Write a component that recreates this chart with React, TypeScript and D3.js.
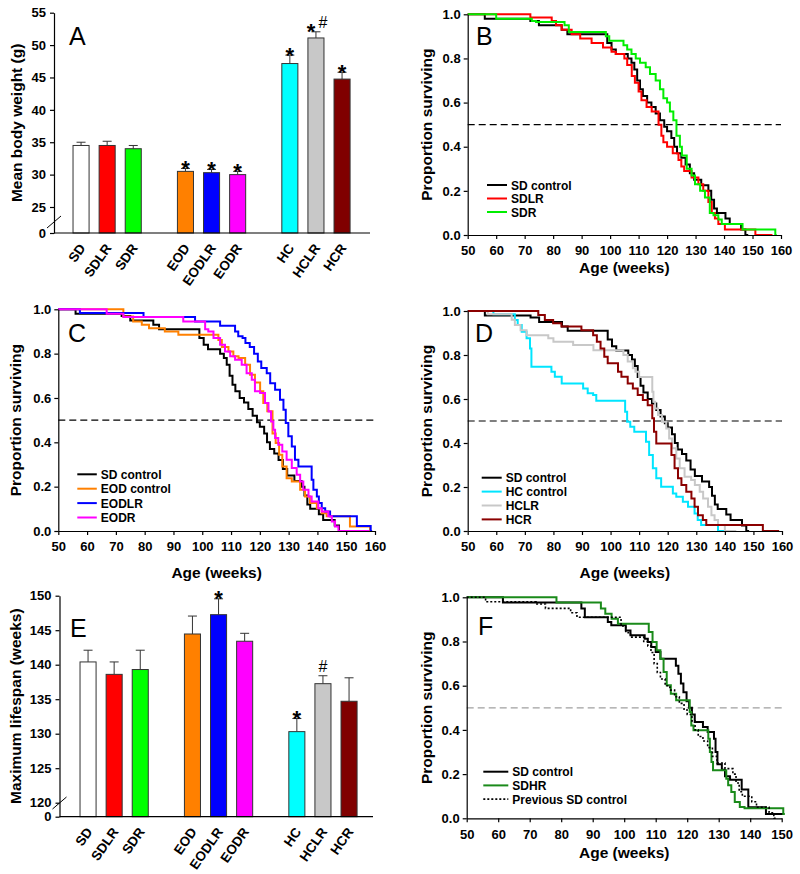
import { useEffect, useRef } from "react";
import * as d3 from "d3";

const FONT = "'Liberation Sans', Arial, Helvetica, sans-serif";

// ---- bar panels (A, E) ----
const barGroups = [
  ["SD", "SDLR", "SDR"],
  ["EOD", "EODLR", "EODR"],
  ["HC", "HCLR", "HCR"],
];
const barColors: Record<string, string> = {
  SD: "#ffffff", SDLR: "#ff0000", SDR: "#00ff00",
  EOD: "#ff8000", EODLR: "#0000ff", EODR: "#ff00ff",
  HC: "#00ffff", HCLR: "#c8c8c8", HCR: "#800000",
};
const bodyWeight = [34.5, 34.5, 34.0, 30.5, 30.3, 30.0, 47.15, 51.1, 44.75];
const bodyWeightErr = [0.5, 0.65, 0.5, 0.45, 0.5, 0.5, 1.3, 0.95, 1.05];
const bodyWeightMarks = ["", "", "", "*", "*", "*", "*", "*", "*"];
const bodyWeightHash = ["", "", "", "", "", "", "", "#", ""];
const bodyWeightTicks = [0, 25, 30, 35, 40, 45, 50, 55];

const maxLifespan = [140.4, 138.6, 139.3, 144.45, 147.25, 143.4, 130.3, 137.25, 134.7];
const maxLifespanErr = [1.7, 1.8, 2.8, 2.6, 2.3, 1.15, 1.9, 1.15, 3.4];
const lifespanMarks = ["", "", "", "", "*", "", "*", "", ""];
const lifespanHash = ["", "", "", "", "", "", "", "#", ""];
const lifespanTicks = [0, 120, 125, 130, 135, 140, 145, 150];

// ---- survival curves: [week, proportion from that week on] ----
type Pt = [number, number];
const sdControl: Pt[] = [
  [50, 1], [56, 0.98], [72, 0.97], [75, 0.95], [83, 0.93], [85, 0.91], [99, 0.87], [100.5, 0.84],
  [102, 0.82], [106.2, 0.8], [107.5, 0.78], [108.5, 0.75], [109.5, 0.7], [110.5, 0.66], [111.5, 0.63],
  [113, 0.6], [114.5, 0.58], [116, 0.55], [117.5, 0.52], [119, 0.49], [120, 0.47], [121.5, 0.44],
  [122.5, 0.4], [123.5, 0.37], [125, 0.35], [126.5, 0.32], [128, 0.28], [129.5, 0.25], [132, 0.225],
  [134.5, 0.2], [135.5, 0.16], [136.5, 0.12], [137.5, 0.1], [140.5, 0.075], [142, 0.05], [146, 0.025],
  [147.5, 0], [148.5, 0],
];
const sdlr: Pt[] = [
  [50, 1], [72, 0.985], [79.5, 0.97], [81, 0.95], [83, 0.93], [86.5, 0.91], [89.5, 0.89], [93.5, 0.87],
  [97.5, 0.85], [100.5, 0.83], [102, 0.82], [105, 0.8], [106, 0.77], [107.6, 0.72], [108.7, 0.69],
  [110, 0.65], [111, 0.61], [112.8, 0.58], [114.6, 0.56], [117, 0.5], [118, 0.45], [118.7, 0.42],
  [120, 0.4], [122, 0.37], [124, 0.34], [125, 0.31], [126, 0.29], [128.6, 0.26], [131, 0.23],
  [132.7, 0.2], [134.5, 0.15], [135.7, 0.1], [136.8, 0.075], [138, 0.05], [140.3, 0.025], [151, 0],
  [157, 0],
];
const sdr: Pt[] = [
  [50, 1], [60, 0.98], [72.5, 0.97], [74, 0.965], [84, 0.95], [85.5, 0.92], [98.5, 0.9], [99.7, 0.88],
  [104.7, 0.86], [106, 0.84], [107.5, 0.82], [109, 0.8], [110.5, 0.78], [112.5, 0.76], [114, 0.73],
  [116, 0.7], [117.5, 0.66], [118.7, 0.62], [120, 0.6], [121, 0.56], [122.2, 0.52], [123.3, 0.45],
  [124.5, 0.4], [125.2, 0.36], [126.9, 0.3], [128.6, 0.27], [129.8, 0.23], [131.6, 0.2], [133.3, 0.17],
  [135, 0.1], [136.3, 0.09], [138, 0.07], [139.2, 0.05], [146.5, 0.025], [158, 0], [158.5, 0],
];
const eodControl: Pt[] = [
  [50, 1], [72.6, 0.968], [76, 0.945], [79, 0.93], [81.5, 0.915], [87, 0.9], [91.7, 0.885],
  [105.6, 0.862], [106.8, 0.83], [109.1, 0.81], [110.8, 0.788], [112.6, 0.78], [114.9, 0.75],
  [116.6, 0.705], [118.3, 0.67], [120.1, 0.63], [121.2, 0.577], [122.6, 0.54], [124.4, 0.44],
  [125.5, 0.397], [126.7, 0.344], [127.8, 0.291], [129.3, 0.238], [131.1, 0.223], [134, 0.186],
  [135.7, 0.156], [137.4, 0.126], [139.8, 0.103], [141.5, 0.08], [143.2, 0.066], [151.3, 0.02],
  [158.3, 0], [159, 0],
];
const eodlr: Pt[] = [
  [50, 1], [57.5, 0.983], [79.6, 0.965], [97.5, 0.945], [106.2, 0.926], [111.4, 0.9], [112.5, 0.878],
  [114, 0.87], [115, 0.848], [116.5, 0.83], [118, 0.8], [119.3, 0.765], [120.5, 0.735], [122.4, 0.712],
  [123.6, 0.667], [125.3, 0.637], [127, 0.592], [128.2, 0.547], [129, 0.487], [129.9, 0.427],
  [131.1, 0.381], [132.2, 0.321], [133.4, 0.291], [138, 0.231], [138.6, 0.186], [139.8, 0.156],
  [140.5, 0.126], [141.5, 0.103], [142.7, 0.088], [144.4, 0.066], [153.7, 0.023], [158.5, 0], [159, 0],
];
const eodr: Pt[] = [
  [50, 1], [66.8, 0.98], [72.6, 0.965], [93.4, 0.945], [101, 0.91], [102.1, 0.9], [103.9, 0.87],
  [106.2, 0.84], [107.9, 0.81], [109.7, 0.788], [111.4, 0.772], [113.7, 0.75], [115.4, 0.712],
  [117.2, 0.682], [118.3, 0.63], [120.1, 0.622], [121.8, 0.577], [123, 0.539], [123.9, 0.494],
  [124.7, 0.457], [125.3, 0.419], [126.4, 0.389], [127.8, 0.359], [129.3, 0.321], [131.1, 0.284],
  [132.8, 0.254], [134, 0.223], [135.1, 0.186], [136.9, 0.156], [138, 0.133], [140.3, 0.103],
  [141.5, 0.088], [143.8, 0.066], [145, 0.043], [146.1, 0.02], [147.3, 0], [158, 0],
];
const hcControl: Pt[] = [
  [50, 1], [59, 0.985], [66.5, 0.959], [67.5, 0.936], [68.9, 0.906], [70.6, 0.876], [71.8, 0.83],
  [72.3, 0.747], [79.3, 0.724], [80.5, 0.701], [82.9, 0.671], [90.4, 0.648], [92, 0.626], [93.9, 0.618],
  [95, 0.592], [105.1, 0.542], [105.8, 0.497], [106.9, 0.474], [108.3, 0.451], [112.4, 0.406],
  [113.5, 0.345], [114.8, 0.285], [116, 0.24], [117.7, 0.201], [121.8, 0.171], [123, 0.156],
  [125.3, 0.133], [127.1, 0.11], [129.4, 0.08], [130.5, 0.05], [131.7, 0.027], [137.6, 0], [143, 0],
];
const hclr: Pt[] = [
  [50, 1], [57, 0.985], [65.4, 0.96], [66.5, 0.936], [68.5, 0.913], [70.6, 0.89], [78.2, 0.876],
  [80, 0.86], [86.9, 0.845], [94, 0.822], [104.5, 0.8], [106, 0.77], [107.8, 0.74], [108.7, 0.724],
  [110, 0.7], [114.6, 0.633], [115, 0.588], [115.6, 0.557], [116.6, 0.527], [118, 0.497],
  [119.5, 0.466], [120.5, 0.421], [121.5, 0.376], [123, 0.33], [124.2, 0.285], [125.9, 0.247],
  [128.2, 0.232], [129.5, 0.209], [131.2, 0.178], [132.4, 0.148], [134.1, 0.11], [135.3, 0.072],
  [136.4, 0.05], [137.6, 0.027], [140, 0], [144, 0],
];
const hcr: Pt[] = [
  [50, 1], [74.7, 0.982], [77, 0.959], [79.9, 0.944], [82.8, 0.929], [89.8, 0.913], [93.9, 0.89],
  [95.2, 0.86], [96.5, 0.83], [97.8, 0.792], [99, 0.762], [102.6, 0.724], [103.8, 0.701], [106, 0.671],
  [107.8, 0.648], [109.5, 0.618], [111.3, 0.595], [113, 0.572], [114.6, 0.512], [115.2, 0.451],
  [116, 0.398], [121.3, 0.345], [122.4, 0.285], [123.6, 0.24], [124.8, 0.209], [126.5, 0.178],
  [128.3, 0.148], [129.4, 0.11], [130.6, 0.072], [132.3, 0.05], [133.5, 0.027], [153.3, 0], [159, 0],
];
const sdControlF: Pt[] = [
  [50, 1], [61.5, 0.976], [86.4, 0.949], [87.5, 0.91], [94.8, 0.888], [95.9, 0.873], [100.5, 0.85],
  [102, 0.828], [106.5, 0.813], [107.5, 0.798], [108.6, 0.775], [110, 0.753], [111.5, 0.722],
  [116.4, 0.69], [117.2, 0.654], [118, 0.61], [118.8, 0.57], [119.8, 0.53], [120.6, 0.5], [121.5, 0.47],
  [122.4, 0.436], [125, 0.413], [126.5, 0.391], [128.5, 0.36], [129, 0.3], [129.6, 0.245], [131, 0.22],
  [132, 0.19], [133.6, 0.175], [137.3, 0.13], [139.4, 0.05], [145, 0.02], [150.5, 0.02],
];
const sdhr: Pt[] = [
  [50, 1], [78.5, 0.976], [92.6, 0.949], [94, 0.926], [96, 0.903], [98, 0.88], [107.8, 0.843],
  [109, 0.798], [110.3, 0.76], [111.5, 0.722], [112.5, 0.662], [113.5, 0.602], [114.8, 0.564],
  [116.5, 0.534], [120.8, 0.481], [121.3, 0.42], [122, 0.398], [126.7, 0.36], [127.2, 0.3],
  [127.7, 0.255], [128.2, 0.217], [132.4, 0.179], [133, 0.149], [134, 0.119], [135.1, 0.074],
  [136.7, 0.051], [138.2, 0.045], [150.5, 0.02], [151, 0.02],
];

type Series = { label: string; data: Pt[]; color: string; dash?: string };

const panelB: Series[] = [
  { label: "SD control", data: sdControl, color: "#000000" },
  { label: "SDLR", data: sdlr, color: "#ff0000" },
  { label: "SDR", data: sdr, color: "#00ee00" },
];
const panelC: Series[] = [
  { label: "SD control", data: sdControl, color: "#000000" },
  { label: "EOD control", data: eodControl, color: "#ff8000" },
  { label: "EODLR", data: eodlr, color: "#0000ff" },
  { label: "EODR", data: eodr, color: "#ff00ff" },
];
const panelD: Series[] = [
  { label: "SD control", data: sdControl, color: "#000000" },
  { label: "HC control", data: hcControl, color: "#00e5ff" },
  { label: "HCLR", data: hclr, color: "#c8c8c8" },
  { label: "HCR", data: hcr, color: "#8b0000" },
];
const panelF: Series[] = [
  { label: "SD control", data: sdControlF, color: "#000000" },
  { label: "SDHR", data: sdhr, color: "#1a8a1a" },
  { label: "Previous SD control", data: sdControl, color: "#000000", dash: "2,2" },
];

type Sel = d3.Selection<SVGSVGElement, unknown, null, undefined>;

function styleAxis(g: d3.Selection<SVGGElement, unknown, null, undefined>) {
  g.attr("font-family", FONT).attr("font-size", 13).attr("font-weight", "bold");
  g.selectAll(".domain").attr("stroke", "#000").attr("stroke-width", 1.2);
  g.selectAll(".tick line").attr("stroke", "#000").attr("stroke-width", 1.2);
  g.selectAll(".tick text").attr("fill", "#000");
}

function letter(svg: Sel, t: string, x: number, y: number) {
  svg.append("text").attr("x", x).attr("y", y).attr("font-family", FONT)
    .attr("font-size", 25).text(t);
}

function yTitle(svg: Sel, t: string, x: number, y: number) {
  svg.append("text").attr("transform", `translate(${x},${y}) rotate(-90)`)
    .attr("text-anchor", "middle").attr("font-family", FONT).attr("font-size", 15.5)
    .attr("font-weight", "bold").text(t);
}

function drawBars(svg: Sel, cfg: {
  values: number[]; errs: number[]; marks: string[]; hashes: string[]; ticks: number[];
  breakAt: number; top: number; base: number; breakY: number; topY: number;
  axisX: number; axisRight: number; barStart: number; slashY: number;
  title: string; titleX: number; letterText: string; letterX: number; letterY: number;
}) {
  const names = barGroups.flat();
  const y = d3.scaleLinear().domain([0, cfg.breakAt, cfg.top]).range([cfg.base, cfg.breakY, cfg.topY]);
  const outer = d3.scaleBand<number>().domain([0, 1, 2])
    .range([cfg.barStart, cfg.barStart + 26.1 * 11]).paddingInner(0.25).paddingOuter(0);
  const cx = (i: number) => {
    const gi = Math.floor(i / 3);
    const inner = d3.scaleBand<string>().domain(barGroups[gi])
      .range([outer(gi)!, outer(gi)! + outer.bandwidth()]).paddingInner(0.385).paddingOuter(0.1925);
    return { x: inner(names[i])!, w: inner.bandwidth() };
  };

  const g = svg.append("g");
  names.forEach((n, i) => {
    const { x, w } = cx(i);
    const c = x + w / 2;
    const v = cfg.values[i];
    const e = v + cfg.errs[i];
    g.append("line").attr("x1", c).attr("x2", c).attr("y1", y(v)).attr("y2", y(e))
      .attr("stroke", "#333").attr("stroke-width", 1);
    g.append("line").attr("x1", c - 4.5).attr("x2", c + 4.5).attr("y1", y(e)).attr("y2", y(e))
      .attr("stroke", "#333").attr("stroke-width", 1);
    g.append("rect").attr("x", x).attr("y", y(v)).attr("width", w).attr("height", cfg.base - y(v))
      .attr("fill", barColors[n]).attr("stroke", "#333").attr("stroke-width", 1);
    const hasHash = cfg.hashes[i] !== "";
    if (cfg.marks[i]) {
      g.append("text").attr("x", hasHash ? c - 5 : c).attr("y", y(e) + 7.5)
        .attr("text-anchor", "middle").attr("font-family", FONT).attr("font-size", 22)
        .attr("font-weight", "bold").text(cfg.marks[i]);
    }
    if (hasHash) {
      g.append("text").attr("x", cfg.marks[i] ? c + 7 : c).attr("y", y(e) - 3.5)
        .attr("text-anchor", "middle").attr("font-family", FONT).attr("font-size", 16)
        .attr("font-weight", "normal").text(cfg.hashes[i]);
    }
    g.append("text").attr("transform", `translate(${c + 5},${cfg.base + 15}) rotate(-55)`)
      .attr("text-anchor", "end").attr("font-family", FONT).attr("font-size", 13.5)
      .attr("font-weight", "bold").text(n);
  });

  const ax = svg.append("g").attr("transform", `translate(${cfg.axisX},0)`)
    .call(d3.axisLeft(y).tickValues(cfg.ticks).tickSize(4).tickSizeOuter(0).tickPadding(4).tickFormat(d3.format("d")));
  styleAxis(ax);
  svg.append("line").attr("x1", cfg.axisX).attr("x2", cfg.axisRight).attr("y1", cfg.base).attr("y2", cfg.base)
    .attr("stroke", "#000").attr("stroke-width", 1.2);
  svg.append("line").attr("x1", cfg.axisX - 7).attr("x2", cfg.axisX + 7)
    .attr("y1", cfg.slashY + 6).attr("y2", cfg.slashY - 6).attr("stroke", "#000").attr("stroke-width", 1);

  yTitle(svg, cfg.title, cfg.titleX, (cfg.topY + cfg.base) / 2);
  letter(svg, cfg.letterText, cfg.letterX, cfg.letterY);
}

function drawSurvival(svg: Sel, cfg: {
  series: Series[]; x0: number; x1: number; yTop: number; yBot: number; xMax: number;
  refColor: string; refDash: string; legendX: number; legendY: number; legendStep: number;
  legendLen: number; letterText: string; letterX: number; letterY: number;
  titleX: number; xTitleY: number;
}) {
  const x = d3.scaleLinear().domain([50, cfg.xMax]).range([cfg.x0, cfg.x1]);
  const y = d3.scaleLinear().domain([0, 1]).range([cfg.yBot, cfg.yTop]);

  svg.append("line").attr("x1", cfg.x0).attr("x2", cfg.x1).attr("y1", y(0.5)).attr("y2", y(0.5))
    .attr("stroke", cfg.refColor).attr("stroke-width", 1.2).attr("stroke-dasharray", cfg.refDash);

  const line = d3.line<Pt>().x(d => x(d[0])).y(d => y(d[1])).curve(d3.curveStepAfter);
  cfg.series.forEach(s => {
    svg.append("path").attr("d", line(s.data)).attr("fill", "none").attr("stroke", s.color)
      .attr("stroke-width", s.dash ? 1.6 : 2).attr("stroke-dasharray", s.dash ?? null);
  });

  const ticks = d3.range(50, cfg.xMax + 1, 10);
  const xa = svg.append("g").attr("transform", `translate(0,${cfg.yBot})`)
    .call(d3.axisBottom(x).tickValues(ticks).tickSize(4).tickSizeOuter(0).tickPadding(7).tickFormat(d3.format("d")));
  styleAxis(xa);
  const ya = svg.append("g").attr("transform", `translate(${cfg.x0},0)`)
    .call(d3.axisLeft(y).tickValues([0, 0.2, 0.4, 0.6, 0.8, 1]).tickSize(4).tickSizeOuter(0).tickPadding(3).tickFormat(d3.format(".1f")));
  styleAxis(ya);

  cfg.series.forEach((s, i) => {
    const ly = cfg.legendY + i * cfg.legendStep;
    svg.append("line").attr("x1", cfg.legendX).attr("x2", cfg.legendX + cfg.legendLen)
      .attr("y1", ly).attr("y2", ly).attr("stroke", s.color)
      .attr("stroke-width", s.dash ? 1.6 : 2).attr("stroke-dasharray", s.dash ?? null);
    svg.append("text").attr("x", cfg.legendX + cfg.legendLen + 4).attr("y", ly + 4.5)
      .attr("font-family", FONT).attr("font-size", 12).attr("font-weight", "bold").text(s.label);
  });

  yTitle(svg, "Proportion surviving", cfg.titleX, (cfg.yTop + cfg.yBot) / 2);
  svg.append("text").attr("x", (cfg.x0 + cfg.x1) / 2).attr("y", cfg.xTitleY).attr("text-anchor", "middle")
    .attr("font-family", FONT).attr("font-size", 15.5).attr("font-weight", "bold").text("Age (weeks)");
  letter(svg, cfg.letterText, cfg.letterX, cfg.letterY);
}

export default function App() {
  const ref = useRef<SVGSVGElement>(null);
  useEffect(() => {
    document.body.style.margin = "0";
    const svg = d3.select(ref.current!) as Sel;
    svg.selectAll("*").remove();

    drawBars(svg, {
      values: bodyWeight, errs: bodyWeightErr, marks: bodyWeightMarks, hashes: bodyWeightHash,
      ticks: bodyWeightTicks, breakAt: 25, top: 55, base: 233, breakY: 207, topY: 12.7,
      axisX: 54, axisRight: 370, barStart: 68, slashY: 222,
      title: "Mean body weight (g)", titleX: 21.5, letterText: "A", letterX: 69, letterY: 45,
    });
    drawBars(svg, {
      values: maxLifespan, errs: maxLifespanErr, marks: lifespanMarks, hashes: lifespanHash,
      ticks: lifespanTicks, breakAt: 120, top: 150, base: 816.7, breakY: 802.7, topY: 595.7,
      axisX: 59.5, axisRight: 373, barStart: 75, slashY: 803,
      title: "Maximum lifespan (weeks)", titleX: 21, letterText: "E", letterX: 70, letterY: 637,
    });

    drawSurvival(svg, {
      series: panelB, x0: 467.7, x1: 781, yTop: 14.3, yBot: 235, xMax: 160,
      refColor: "#000", refDash: "7,4", legendX: 487, legendY: 185, legendStep: 13.5, legendLen: 20,
      letterText: "B", letterX: 476, letterY: 45, titleX: 432, xTitleY: 273,
    });
    drawSurvival(svg, {
      series: panelC, x0: 58.3, x1: 375, yTop: 309.3, yBot: 531, xMax: 160,
      refColor: "#000", refDash: "7,4", legendX: 77.3, legendY: 474.3, legendStep: 14.4, legendLen: 19.5,
      letterText: "C", letterX: 68, letterY: 342, titleX: 21, xTitleY: 578,
    });
    drawSurvival(svg, {
      series: panelD, x0: 467.7, x1: 782, yTop: 311, yBot: 531, xMax: 160,
      refColor: "#000", refDash: "7,4", legendX: 481.7, legendY: 477.7, legendStep: 13.9, legendLen: 20,
      letterText: "D", letterX: 475, letterY: 342, titleX: 432, xTitleY: 578,
    });
    drawSurvival(svg, {
      series: panelF, x0: 466.7, x1: 781.7, yTop: 597.3, yBot: 818.3, xMax: 150,
      refColor: "#a0a0a0", refDash: "7,4", legendX: 483.3, legendY: 771.7, legendStep: 13.7, legendLen: 25,
      letterText: "F", letterX: 478, letterY: 635, titleX: 432, xTitleY: 858,
    });
  }, []);
  return <svg ref={ref} width={800} height={874} style={{ display: "block", background: "#fff" }} />;
}
